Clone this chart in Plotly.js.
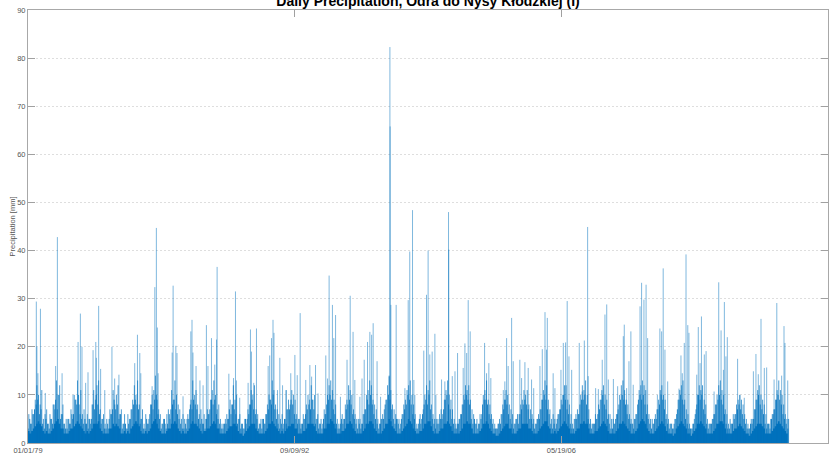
<!DOCTYPE html>
<html><head><meta charset="utf-8">
<script src="https://cdn.plot.ly/plotly-3.0.1.min.js"></script>
<style>html,body{margin:0;padding:0;background:#fff;}#chart{width:837px;height:458px;}</style>
</head><body><div id="chart"></div>
<script>
// ---- data ----
const chartTitle = 'Daily Precipitation, Odra do Nysy Kłodzkiej (I)';
const yTitle = 'Precipitation [mm]';
const xTickVals = ['1979-01-01', '1992-09-09', '2006-05-19', '2020-01-26'];
const xTickText = ['01/01/79', '09/09/92', '05/19/06', '01/26/20'];
const firstYear = 1979;

// heavy days (decimal year, mm)
const spikeYear = [
1979.43,1979.46,1979.51,1979.64,1979.89,1980.42,1980.51,1980.75,1981.31,1981.57,1981.69,1981.77,1981.96,1982.08,1982.34,1982.48,1982.51,1982.63,1982.73,1982.94,1983.31,1983.45,1983.67,1984.48,1984.62,1984.74,1984.79,1985.37,1985.51,1985.59,1985.64,
1985.68,1986.40,1986.45,1986.59,1986.65,1986.96,1987.36,1987.42,1987.47,1987.63,1987.83,1987.99,1988.16,1988.24,1988.42,1988.59,1988.68,1988.71,1989.31,1989.55,1989.65,1989.70,1989.87,1990.30,1990.42,1990.47,1990.59,1990.73,1991.33,1991.41,1991.50,1991.58,1991.63,1991.81,1991.93,1992.07,1992.24,
1992.27,1992.49,1992.70,1992.82,1992.97,1993.26,1993.47,1993.56,1993.76,1993.89,1994.29,1994.38,1994.46,1994.63,1994.70,1994.79,1995.04,1995.38,1995.54,1995.69,1995.78,1996.04,1996.15,1996.26,1996.43,1996.55,1996.64,1996.72,1996.92,1997.10,1997.54,1997.58,1997.59,1997.63,1997.90,1998.35,1998.52,1998.60,1998.74,1998.81,
1998.86,1999.32,1999.46,1999.54,1999.63,1999.75,1999.89,1999.94,2000.23,2000.40,2000.59,2000.60,2000.78,2000.92,2001.05,2001.34,2001.43,2001.52,2001.60,2001.70,2002.44,2002.54,2002.66,2002.76,2003.40,2003.48,2003.57,2003.65,2003.83,2003.91,2004.25,2004.34,2004.51,2004.68,2004.85,2004.96,2005.28,2005.40,2005.54,2005.66,
2005.62,2005.96,2006.05,2006.36,2006.48,2006.60,2006.68,2006.77,2006.91,2007.30,2007.45,2007.56,2007.73,2007.76,2008.14,2008.28,2008.48,2008.62,2008.71,2008.79,2009.05,2009.27,2009.56,2009.61,2009.73,2009.85,2009.95,2010.07,2010.42,2010.50,2010.62,2010.73,2010.81,2011.31,2011.44,2011.53,2011.61,2011.70,2011.84,2012.42,
2012.52,2012.59,2012.69,2012.78,2012.87,2012.93,2013.33,2013.41,2013.50,2013.57,2013.72,2013.81,2014.22,2014.46,2014.58,2014.70,2014.75,2014.83,2014.90,2015.43,2015.55,2015.77,2016.24,2016.37,2016.49,2016.63,2016.80,2016.92,2017.30,2017.44,2017.69,2017.81,2017.86,2018.00];
const spikeMM = [
29.4,20,14.5,27.9,10.4,16,42.8,14.5,10,21,26.9,20,12.5,14.7,19.3,21,17.7,28.5,15.4,11,20,13.4,14.2,16.6,22.5,18.7,14.5,11.8,32.4,44.7,24,
14.5,18.8,32.7,20.2,18.7,9.7,23.2,25.6,18.8,16,13,12,24.5,16,21.8,16.3,21.5,36.6,14.4,13.5,31.5,13,9.4,12.5,23.6,19,12.5,23.8,16,18.2,21.8,25.6,22.9,11,17.7,12,11,
11,14.5,18.3,14.1,27,13.1,16.2,13.8,16.2,10.3,18.2,13.4,34.8,28.7,21.8,26.6,9.6,17.3,30.6,23.1,13.1,9.6,13.4,17.3,21,23.1,22.5,24.9,17,9.6,13.8,82.3,65.8,28.7,28.7,11.4,29.7,39.8,48.4,13.1,
10,19.2,30.8,40,18.4,19,22.7,10,13.2,12.8,48,40.2,13.9,14.9,18.7,15.6,20.7,18.7,29.7,23.2,20.8,14.5,16.6,13.5,11,12.8,21.8,16,26,17,17.3,13.5,16.8,15.6,13.2,11.4,16,19.5,27.2,26,
19.4,14.5,11.4,15.2,20.8,20.9,29.5,18,15.2,20.8,10.7,21.3,44.9,13.9,11.4,11.2,17.3,26.7,28.8,13.2,13.3,11.8,22.2,24.6,11.4,17,23.2,12.1,28.4,33.3,29.8,32.9,21.8,10,23.8,23.2,36.3,19.4,12.8,11.3,
18.2,14.5,20.8,39.2,24.5,22.9,14.2,24.1,16.6,26.3,18.4,19.1,10.7,33.4,23.4,15.2,29.3,18,22,17.5,10,9.4,14.9,18.5,14.3,25.8,15.6,15.7,13.2,29.1,14,24.3,20.8,13];

// upper level of ordinary wet days, per month (Jan 1979 .. Jan 2018), mm
const bandTop = [
6,4,7,6,9,12,10,8,11,5,6,7,
4,6,5,8,7,13,10,12,6,8,4,5,
5,4,7,5,10,9,13,8,11,6,7,4,
6,5,4,8,11,9,12,13,7,5,6,4,
5,3,7,6,11,8,10,12,6,7,4,6,
3,6,5,7,9,12,10,13,8,5,7,4,
6,4,5,8,10,11,14,9,7,6,4,5,
4,6,7,5,11,9,13,10,8,7,5,6,
5,3,6,7,9,13,10,11,8,6,7,4,
6,5,7,6,9,11,13,10,7,8,5,4,
4,5,6,5,9,8,12,9,10,5,6,4,
3,5,4,7,8,11,10,12,7,6,4,5,
5,4,6,8,10,9,13,11,8,7,6,5,
6,4,5,7,9,8,11,10,9,6,5,4,
4,6,5,8,10,9,12,9,10,5,6,4,
5,4,7,6,10,12,13,11,9,8,5,4,
4,6,5,8,9,12,11,10,7,6,5,5,
5,4,6,7,10,11,13,12,9,8,7,5,
4,5,6,7,9,12,14,11,8,7,6,5,
5,4,6,8,9,11,12,13,10,8,6,4,
4,6,5,7,10,12,11,13,8,6,5,5,
5,6,7,6,9,11,13,10,9,7,5,4,
4,5,6,8,10,12,11,12,9,7,6,4,
5,4,6,6,10,11,13,9,8,6,5,4,
3,4,5,6,8,9,11,10,8,7,6,4,
5,6,6,8,9,11,10,11,8,7,6,5,
4,5,6,7,9,11,13,12,9,7,5,6,
5,4,6,7,9,10,12,12,9,8,6,4,
5,6,7,6,10,12,11,13,10,7,5,4,
4,6,5,8,9,11,12,10,9,6,6,5,
5,4,6,7,10,12,13,11,9,8,6,5,
4,5,6,8,11,12,13,12,11,8,6,5,
5,4,6,7,9,11,12,10,9,6,5,4,
4,3,5,6,9,11,12,13,9,7,6,4,
3,4,5,7,10,12,11,12,9,8,5,4,
4,5,6,8,10,12,13,11,10,7,6,4,
5,4,6,6,8,9,10,9,8,6,5,4,
3,5,5,7,9,11,12,10,9,8,6,4,
4,5,6,7,9,11,13,11,10,8,6,5,
5];

// second ordinary wet-day level, per month, mm
const bandSecond = [
3,5,4,6,7,8,9,6,7,4,3,5,
4,3,5,4,8,9,7,10,5,6,4,3,
3,5,4,6,6,9,8,10,6,5,4,5,
4,3,5,5,8,7,10,8,6,4,5,3,
3,4,5,6,7,9,7,8,5,6,3,4,
4,3,4,5,7,8,9,8,7,4,5,3,
3,5,4,6,8,7,9,10,6,5,3,4,
5,3,4,6,7,8,9,7,6,5,4,3,
3,4,5,5,8,7,9,8,7,5,4,5,
4,3,5,6,7,9,8,9,6,5,4,3,
3,4,4,5,7,6,8,7,6,4,5,3,
4,3,5,5,6,8,9,7,6,5,3,4,
3,5,4,6,7,9,8,10,7,5,4,3,
4,3,5,4,7,7,9,8,6,5,4,5,
3,4,5,6,7,8,7,9,7,4,5,3,
4,3,5,6,8,9,10,9,7,6,4,3,
3,5,4,5,7,8,9,8,6,5,4,3,
4,3,4,6,7,9,8,10,8,6,5,4,
3,4,5,5,8,9,10,9,7,5,4,5,
4,3,5,6,7,8,10,9,8,6,5,3,
3,5,4,6,8,9,8,10,7,5,4,3,
4,4,5,5,7,9,10,8,7,5,4,3,
3,4,5,6,8,9,10,9,8,5,4,5,
4,3,4,5,8,9,9,8,6,5,4,3,
3,3,4,4,6,7,9,8,6,5,4,3,
4,5,4,6,7,8,9,8,7,5,5,4,
3,4,5,5,7,9,10,9,7,6,4,3,
4,3,5,6,7,8,10,9,7,6,4,3,
3,5,5,6,8,9,9,10,8,5,4,3,
4,4,5,6,7,9,10,8,7,5,4,3,
3,4,5,6,8,9,10,9,8,6,5,4,
4,3,5,6,9,10,9,10,8,6,5,4,
3,4,5,5,7,8,10,9,7,5,4,3,
4,3,4,5,7,9,10,9,8,5,4,3,
3,3,4,6,8,10,9,10,7,6,4,3,
4,4,5,6,8,9,10,9,8,6,4,3,
3,4,4,5,6,7,8,7,6,5,4,3,
3,4,4,5,7,9,10,8,7,6,4,3,
4,3,5,6,7,9,10,9,8,6,5,4,
3];

// dense level of most days, per month, mm
const bandBase = [
2.5,2,2.5,3,3.5,4,4.5,4,3.5,2.5,2,2.5,
2,2,2.5,3,4,4.5,5,4,3,3,2,2,
2,2.5,3,3,3.5,4,4.5,4,3.5,3,2.5,2,
2.5,2,2.5,3,4,4,4,4.5,3,2.5,2,2,
2,2,3,3,4,3.5,4,3.5,3,2,2,2.5,
2,2.5,2,3,3.5,4,4.5,4,3.5,2.5,2,2,
2.5,2,2.5,3,4,4.5,5,4,3,2.5,2,2,
2,2.5,3,3,4,4,4.5,4,3,2.5,2,2.5,
2,2,2.5,3,4,4.5,4,4,3.5,3,2.5,2,
2.5,2.5,3,3,3.5,4,4.5,4,3,3,2,2,
2,2,2.5,3,3.5,3.5,4,4,3.5,2.5,2,2,
1.5,2,2.5,3,3.5,4,4,4,3,2.5,2,2,
2,2,2.5,3,4,4,4.5,4,3.5,3,2.5,2,
2.5,2,2.5,3,3.5,3.5,4,4,3,3,2,2,
2,2.5,2.5,3,4,4,4,4,3.5,2.5,2,2,
2,2,3,3,4,4,5,4.5,4,3,2,2,
2,2.5,2.5,3,4,4,4.5,4,3,2.5,2,2,
2,2,2.5,3,4,4,4.5,4.5,4,3,2.5,2,
2,2,2.5,3,4,4,5,4.5,3.5,3,2.5,2,
2,2,2.5,3,3.5,4,5,4.5,4,3,2.5,2,
2,2.5,2.5,3,4,4,4.5,4.5,3.5,2.5,2,2,
2,2.5,3,3,4,4,4.5,4,3.5,2.5,2,2,
2,2,2.5,3,4,4,4.5,4,4,3,2,2,
2,2,2.5,3,4,4,4.5,4,3,2.5,2,2,
1.5,1.5,2,2.5,3,3.5,4,4,3,3,2,2,
2,2.5,3,3,4,4,4,4,3,3,2.5,2,
2,2,2.5,3,3.5,4,4.5,4.5,3.5,3,2,2,
2.5,2,2.5,3,3.5,4,4.5,4,3.5,3,2,2,
2,2.5,3,3,4,4,4.5,4,4,3,2,2,
2,2.5,2.5,3,3.5,4,4.5,4,3.5,2.5,2,2,
2,2,2.5,3,4,4,4.5,4,3.5,3,2.5,2,
2,2,2.5,3,4,4.5,5,4.5,4,3,2.5,2,
2,2,2.5,3,3.5,4,4.5,4,3.5,2.5,2,2,
2,1.5,2,3,3.5,4,4.5,4,3.5,3,2,2,
1.5,2,2.5,3,4,4,4.5,4,3.5,3,2,2,
2,2,2.5,3,4,4,4.5,4.5,4,3,2,2,
2,2,2.5,3,3,3.5,4,3.5,3,2.5,2,2,
1.5,2,2.5,3,3.5,4,4,4,3.5,3,2,2,
2,2,2.5,3,3.5,4,4.5,4,3.5,3,2.5,2,
2];

// ---- build ----
function yearToDate(v) {
  const y = Math.floor(v), f = v - y;
  const a = Date.UTC(y, 0, 1), b = Date.UTC(y + 1, 0, 1);
  return new Date(a + f * (b - a)).toISOString().slice(0, 10);
}
function monthDate(i, day) {
  const y = firstYear + Math.floor(i / 12), m = (i % 12) + 1;
  return y + '-' + (m < 10 ? '0' : '') + m + '-' + (day < 10 ? '0' : '') + day;
}
function stems(xs, ys) {
  const X = [], Y = [];
  for (let i = 0; i < xs.length; i++) { X.push(xs[i], xs[i], null); Y.push(0, ys[i], null); }
  return {X, Y};
}
const topStems = stems(bandTop.map((_, i) => monthDate(i, 17)), bandTop);
const secStems = stems(bandSecond.map((_, i) => monthDate(i, 3)), bandSecond);
const spikeStems = stems(spikeYear.map(yearToDate), spikeMM);
const baseX = bandBase.map((_, i) => monthDate(i, 1));
const C = '0,114,189';

const traces = [
  {x: baseX, y: bandBase, type: 'scatter', mode: 'lines', fill: 'tozeroy',
   fillcolor: 'rgb(' + C + ')', line: {width: 0, shape: 'hv', color: 'rgb(' + C + ')'}, hoverinfo: 'skip'},
  {x: secStems.X, y: secStems.Y, type: 'scatter', mode: 'lines', connectgaps: false,
   line: {width: 1, color: 'rgba(' + C + ',0.85)'}, hoverinfo: 'skip'},
  {x: topStems.X, y: topStems.Y, type: 'scatter', mode: 'lines', connectgaps: false,
   line: {width: 1, color: 'rgba(' + C + ',0.7)'}, hoverinfo: 'skip'},
  {x: spikeStems.X, y: spikeStems.Y, type: 'scatter', mode: 'lines', connectgaps: false,
   line: {width: 1, color: 'rgba(' + C + ',0.5)'}, hoverinfo: 'skip'}
];

const F = 'Liberation Sans, Arial, Helvetica, sans-serif';
const layout = {
  width: 837, height: 458,
  margin: {l: 28, r: 9, t: 10, b: 15, pad: 0},
  paper_bgcolor: '#fff', plot_bgcolor: '#fff',
  showlegend: false,
  title: {text: '<b>' + chartTitle + '</b>', font: {family: F, size: 14, color: '#000'},
          x: 0.5, xref: 'paper', y: 0.998, yref: 'container', yanchor: 'middle'},
  xaxis: {type: 'date', range: ['1979-01-01', '2020-01-26'], tickmode: 'array',
          tickvals: xTickVals, ticktext: xTickText, ticks: 'inside', ticklen: 7, tickwidth: 1,
          tickcolor: '#a0a0a0', showline: true, linecolor: '#a8a8a8', linewidth: 1, mirror: 'ticks',
          showgrid: false, zeroline: false, tickfont: {family: F, size: 7.5, color: '#555'}, automargin: false},
  yaxis: {range: [0, 90], dtick: 10, tick0: 0, ticks: 'inside', ticklen: 7, tickwidth: 1,
          tickcolor: '#a0a0a0', showline: true, linecolor: '#a8a8a8', linewidth: 1, mirror: 'ticks',
          showgrid: true, gridcolor: '#dedede', griddash: '2px,2px', gridwidth: 1, zeroline: false,
          tickfont: {family: F, size: 7.5, color: '#555'}, automargin: false,
          title: {text: yTitle, font: {family: F, size: 7.5, color: '#555'}, standoff: 0}}
};
Plotly.newPlot('chart', traces, layout, {staticPlot: true, displayModeBar: false});
</script></body></html>
